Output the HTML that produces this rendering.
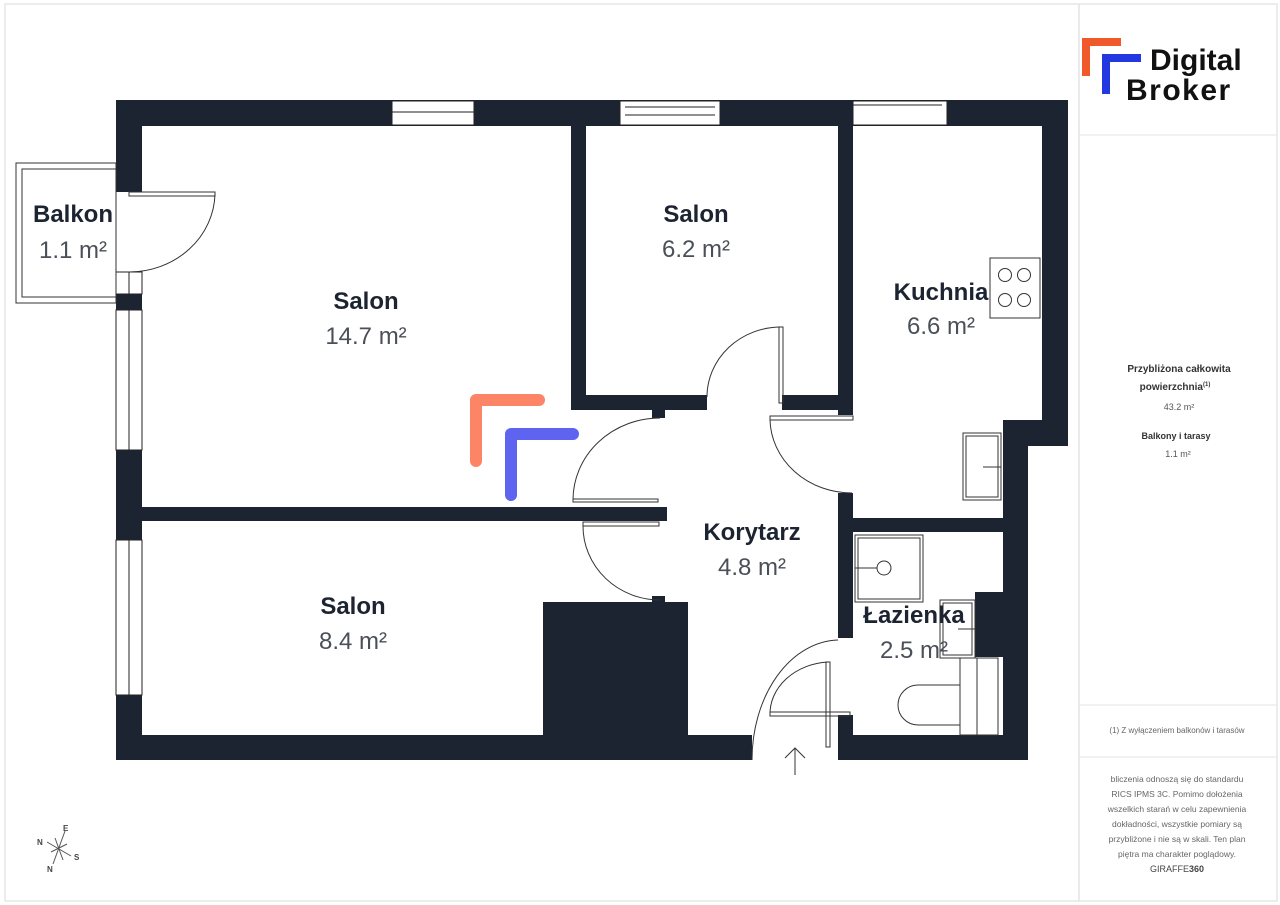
<!DOCTYPE html>
<html><head><meta charset="utf-8"><style>
html,body{margin:0;padding:0;background:#fff;}
body{width:1280px;height:905px;overflow:hidden;position:relative;font-family:"Liberation Sans",sans-serif;}
svg{position:absolute;left:0;top:0;}
</style></head><body>
<svg width="1280" height="905" viewBox="0 0 1280 905" xmlns="http://www.w3.org/2000/svg">
<rect x="5" y="4" width="1272" height="897" fill="none" stroke="#e6e6e6" stroke-width="1.5"/>
<line x1="1079" y1="4" x2="1079" y2="901" stroke="#e3e3e3" stroke-width="1.5"/>
<line x1="1079" y1="135" x2="1277" y2="135" stroke="#e3e3e3"/>
<line x1="1079" y1="705" x2="1277" y2="705" stroke="#e3e3e3"/>
<line x1="1079" y1="757" x2="1277" y2="757" stroke="#e3e3e3"/>

<g fill="#1d2431">
<rect x="116" y="100" width="952" height="26"/>
<rect x="116" y="100" width="26" height="92"/>
<rect x="116" y="294" width="26" height="16"/>
<rect x="116" y="450" width="26" height="90"/>
<rect x="116" y="695" width="26" height="65"/>
<rect x="116" y="735" width="636" height="25"/>
<rect x="838" y="735" width="190" height="25"/>
<rect x="1042" y="100" width="26" height="322"/>
<rect x="1003" y="420" width="65" height="26"/>
<rect x="1003" y="420" width="25" height="340"/>
<rect x="571" y="126" width="15" height="284"/>
<rect x="571" y="395" width="136" height="15"/>
<rect x="782" y="395" width="71" height="15"/>
<rect x="838" y="100" width="15" height="315"/>
<rect x="142" y="507" width="525" height="14"/>
<rect x="652" y="410" width="13" height="8"/>
<rect x="652" y="596" width="13" height="8"/>
<rect x="543" y="602" width="145" height="133"/>
<rect x="838" y="493" width="15" height="145"/>
<rect x="838" y="518" width="165" height="14"/>
<rect x="838" y="715" width="15" height="45"/>
<rect x="975" y="592" width="28" height="65"/>
</g>

<g fill="#fff" stroke="#222" stroke-width="1">
<rect x="392" y="101" width="82" height="24"/>
<rect x="620" y="101" width="100" height="24"/>
<rect x="853" y="101" width="94" height="24"/>
</g>
<g stroke="#222" stroke-width="1">
<line x1="392" y1="112" x2="474" y2="112"/>
<line x1="625" y1="107" x2="715" y2="107"/><line x1="625" y1="115" x2="715" y2="115"/>
<line x1="853" y1="105" x2="942" y2="105"/>
</g>
<g fill="#fff" stroke="#222" stroke-width="1">
<rect x="116" y="272" width="26" height="22"/>
<rect x="116" y="310" width="26" height="140"/>
<rect x="116" y="540" width="26" height="155"/>
<line x1="129" y1="272" x2="129" y2="294"/>
<line x1="129" y1="310" x2="129" y2="450"/>
<line x1="129" y1="540" x2="129" y2="695"/>
</g>
<g fill="none" stroke="#333" stroke-width="1">
<rect x="16" y="163" width="100" height="140"/>
<rect x="22" y="169" width="94" height="128"/>
<rect x="129" y="192" width="86" height="4"/>
<path d="M215,194 A86,80 0 0 1 129,272"/>
<rect x="779" y="327" width="4" height="76"/>
<path d="M781,327 A74,70 0 0 0 707,397"/>
<path d="M660,418 A87,82 0 0 0 573,500"/>
<rect x="573" y="499" width="85" height="3"/>
<rect x="583" y="522" width="76" height="4"/>
<path d="M583,526 A77,74 0 0 0 660,600"/>
<rect x="770" y="416" width="83" height="4"/>
<path d="M770,420 A82,75 0 0 0 852,493"/>
<path d="M752,760 A88,120 0 0 1 838,640"/>
<rect x="770" y="712" width="80" height="4"/>
<rect x="826" y="662" width="4" height="85"/>
<path d="M770,715 A62,52 0 0 1 828,662"/>
<rect x="990" y="258" width="50" height="60"/>
<circle cx="1005" cy="275" r="6.5"/><circle cx="1024" cy="275" r="6.5"/>
<circle cx="1005" cy="300" r="6.5"/><circle cx="1024" cy="300" r="6.5"/>
<rect x="963" y="433" width="38" height="67"/><rect x="966" y="436" width="32" height="61"/>
<line x1="983" y1="467" x2="1001" y2="467"/>
<rect x="855" y="535" width="68" height="67"/><rect x="858" y="538" width="62" height="61"/>
<circle cx="884" cy="568" r="7"/><line x1="855" y1="568" x2="877" y2="568"/>
<rect x="940" y="600" width="35" height="58"/><rect x="943" y="603" width="29" height="52"/>
<line x1="958" y1="629" x2="975" y2="629"/>
<rect x="960" y="658" width="38" height="77"/>
<line x1="977" y1="658" x2="977" y2="735"/>
<path d="M960,685 L918,685 A15,15 0 0 0 918,725 L960,725"/>
<path d="M795,775 L795,748 M785,758 L795,748 L805,758"/>
</g>

<g fill="none" stroke-linecap="round" stroke-linejoin="round" stroke-width="12">
<path d="M476,461 L476,400 L539,400" stroke="#fb8566"/>
<path d="M511,495 L511,434 L573,434" stroke="#5e64f0"/>
</g>

<g font-family="Liberation Sans, sans-serif" text-anchor="middle">
<g font-weight="bold" font-size="24" fill="#1d2431">
<text x="73" y="222">Balkon</text>
<text x="366" y="309">Salon</text>
<text x="696" y="222">Salon</text>
<text x="941" y="300">Kuchnia</text>
<text x="752" y="540">Korytarz</text>
<text x="353" y="614">Salon</text>
<text x="914" y="623">Łazienka</text>
</g>
<g font-size="24" fill="#4a4f58">
<text x="73" y="258">1.1 m²</text>
<text x="366" y="344">14.7 m²</text>
<text x="696" y="257">6.2 m²</text>
<text x="941" y="334">6.6 m²</text>
<text x="752" y="575">4.8 m²</text>
<text x="353" y="649">8.4 m²</text>
<text x="914" y="658">2.5 m²</text>
</g>
</g>

<g stroke="#555" stroke-width="1">
<line x1="47" y1="842" x2="71" y2="856"/>
<line x1="65" y1="831" x2="53" y2="864"/>
<line x1="51" y1="852" x2="67" y2="844"/>
<line x1="55" y1="838" x2="63" y2="860"/>
</g>
<g font-size="8" font-weight="bold" fill="#444" font-family="Liberation Sans, sans-serif">
<text x="37" y="845">N</text><text x="63" y="831">E</text><text x="74" y="860">S</text><text x="47" y="872">N</text>
</g>

<g fill="none" stroke-width="8" stroke-linecap="butt">
<path d="M1086,76 L1086,42 L1121,42" stroke="#f05a2a"/>
<path d="M1106,94 L1106,58 L1141,58" stroke="#2338e0"/>
</g>
<g font-family="Liberation Sans, sans-serif" font-weight="bold" fill="#111">
<text x="1150" y="70" font-size="30">Digital</text>
<text x="1126" y="100" font-size="30" letter-spacing="1.5">Broker</text>
</g>

<g font-family="Liberation Sans, sans-serif" text-anchor="middle" fill="#333">
<text x="1179" y="372" font-size="10" font-weight="bold">Przybliżona całkowita</text>
<text x="1175" y="390" font-size="10" font-weight="bold">powierzchnia<tspan font-size="6" dy="-4">(1)</tspan></text>
<text x="1179" y="410" font-size="9" fill="#555">43.2 m²</text>
<text x="1176" y="439" font-size="9" font-weight="bold">Balkony i tarasy</text>
<text x="1178" y="457" font-size="9" fill="#555">1.1 m²</text>
<text x="1177" y="733" font-size="8" fill="#666">(1) Z wyłączeniem balkonów i tarasów</text>
<g font-size="8.5" fill="#666">
<text x="1177" y="782">bliczenia odnoszą się do standardu</text>
<text x="1177" y="797">RICS IPMS 3C. Pomimo dołożenia</text>
<text x="1177" y="812">wszelkich starań w celu zapewnienia</text>
<text x="1177" y="827">dokładności, wszystkie pomiary są</text>
<text x="1177" y="842">przybliżone i nie są w skali. Ten plan</text>
<text x="1177" y="857">piętra ma charakter poglądowy.</text>
</g>
<text x="1177" y="872" font-size="9" fill="#444">GIRAFFE<tspan font-weight="bold">360</tspan></text>
</g>
</svg>
</body></html>
